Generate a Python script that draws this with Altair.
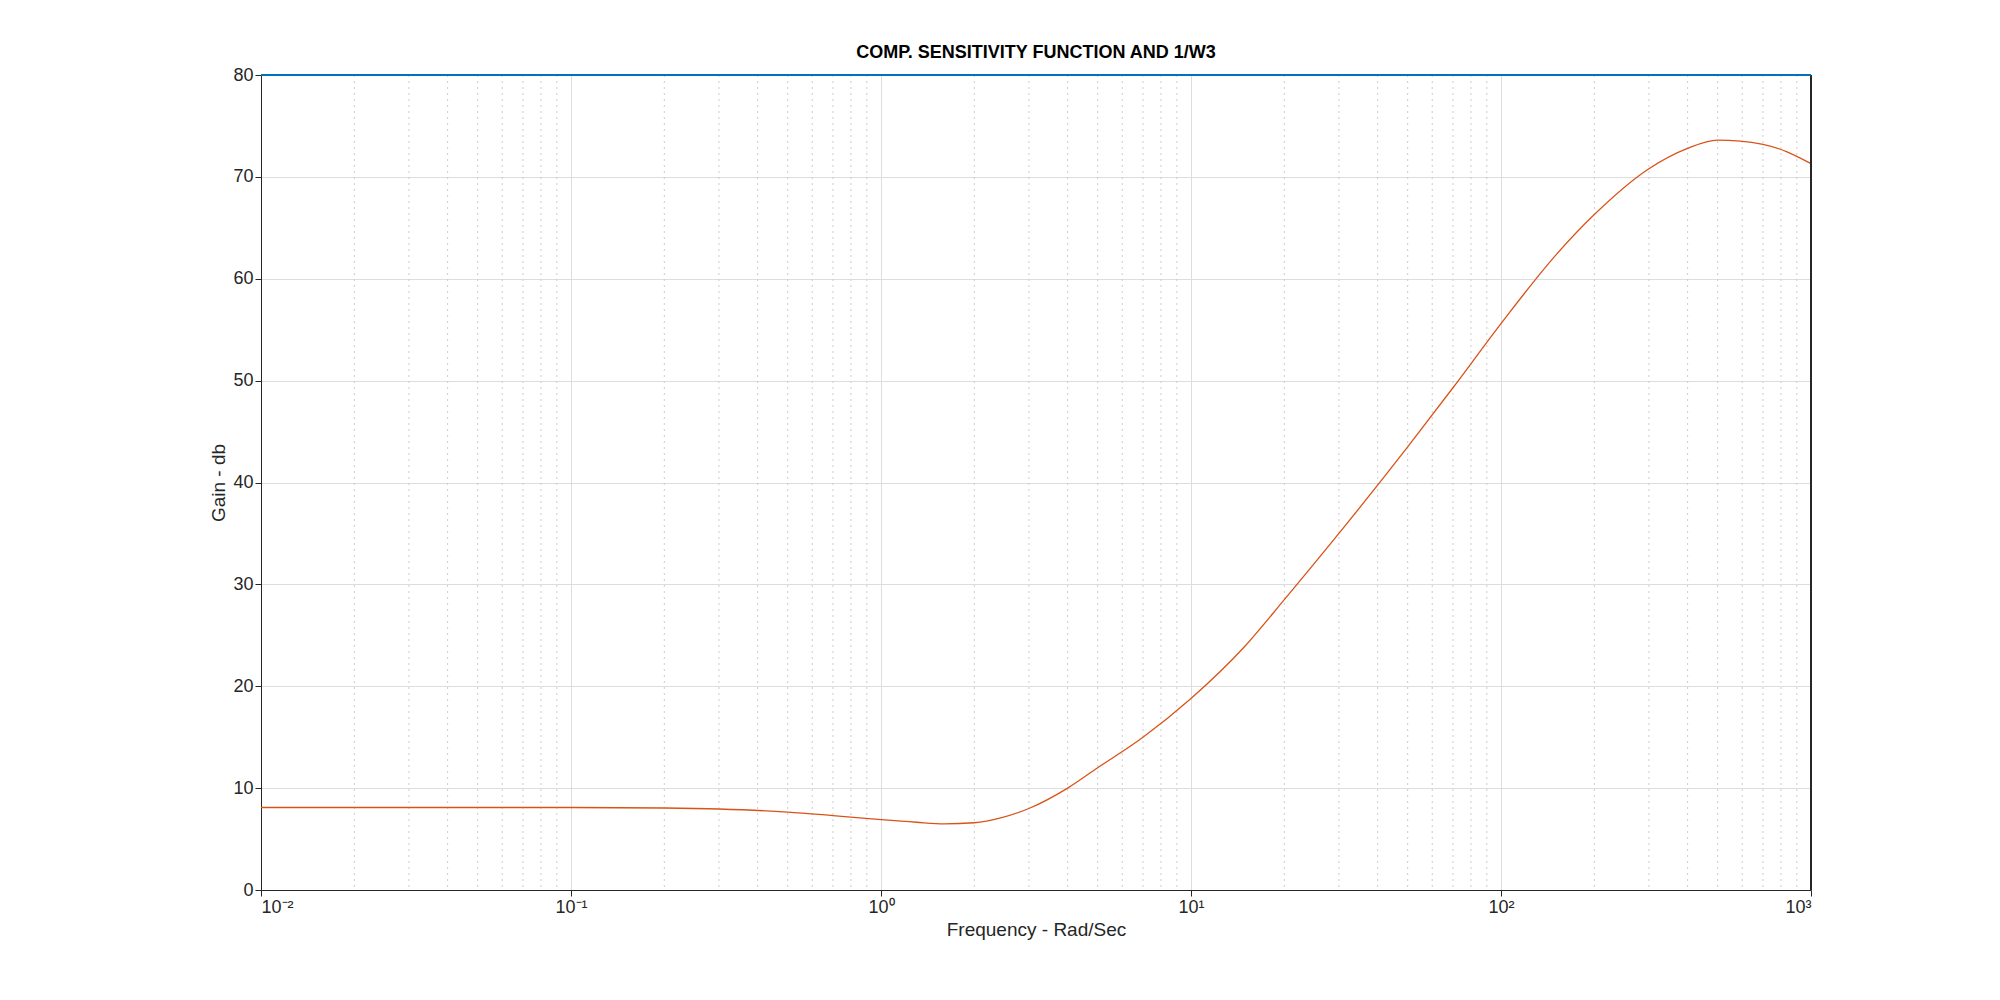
import altair as alt
import pandas as pd

freq = [0.01, 0.03, 0.1, 0.2, 0.3, 0.5, 0.7, 1.0, 1.3, 1.6, 2.0, 2.45, 3.0, 4.0, 5.0, 7.0, 10.0,
        15.0, 20.0, 30.0, 50.0, 70.0, 100.0, 150.0, 200.0, 300.0, 400.0, 500.0, 700.0, 1000.0]
gain = [8.1, 8.1, 8.1, 8.05, 7.95, 7.65, 7.3, 6.9, 6.65, 6.5, 6.6, 7.1, 8.0, 10.0, 12.0, 15.0, 18.8,
        24.0, 28.5, 35.0, 43.5, 49.3, 55.6, 62.3, 66.3, 70.8, 72.8, 73.6, 73.2, 71.3]

decades = [0.01, 0.1, 1, 10, 100, 1000]
minor = [m * d for d in decades[:-1] for m in range(2, 10)]
yticks = [0, 10, 20, 30, 40, 50, 60, 70, 80]

df = pd.DataFrame({"f": freq, "g": gain})
FONT = "Liberation Sans"

x = alt.X("f:Q", scale=alt.Scale(type="log", domain=[0.01, 1000], nice=False),
          axis=alt.Axis(values=decades, title="Frequency - Rad/Sec", gridColor="#dddddd",
                        labelExpr="{'0.01':'10⁻²','0.1':'10⁻¹','1':'10⁰','10':'10¹','100':'10²','1000':'10³'}[format(datum.value,'')]",
                        labelFontSize=18, titleFontSize=19, titleFontWeight="normal",
                        labelFont=FONT, titleFont=FONT, tickColor="#262626", tickSize=6,
                        domainColor="#262626", labelColor="#262626", titleColor="#262626"))
y = alt.Y("g:Q", scale=alt.Scale(domain=[0, 80], nice=False),
          axis=alt.Axis(values=yticks, title="Gain - db", gridColor="#dddddd",
                        labelFontSize=18, titleFontSize=19, titleFontWeight="normal",
                        labelFont=FONT, titleFont=FONT, tickColor="#262626", tickSize=6,
                        domainColor="#262626", labelColor="#262626", titleColor="#262626"))

minor_df = pd.DataFrame({"f": minor})
minor_grid = alt.Chart(minor_df).mark_rule(color="#cccccc", strokeDash=[2, 4], strokeWidth=1).encode(
    x=alt.X("f:Q", scale=alt.Scale(type="log", domain=[0.01, 1000], nice=False))
)

line = alt.Chart(df).mark_line(color="#d95319", strokeWidth=1.3, interpolate="monotone").encode(x=x, y=y)

top = alt.Chart(df).mark_rule(color="#0072bd", strokeWidth=1.5).encode(
    x=alt.value(0), x2=alt.value(1550), y=alt.value(0))
right = alt.Chart(df).mark_rule(color="#262626", strokeWidth=1).encode(
    x=alt.value(1550), y=alt.value(0), y2=alt.value(815))

chart = (minor_grid + line + right + top).properties(
    width=1550, height=815,
    autosize="none",
    padding={"left": 253, "top": 67, "right": 180, "bottom": 100},
    title=alt.TitleParams("COMP. SENSITIVITY FUNCTION AND 1/W3", font=FONT, fontSize=18,
                          fontWeight="bold", color="black", offset=4),
).configure_view(stroke=None)

chart.save("out.html", embed_options={"renderer": "svg", "actions": False})
